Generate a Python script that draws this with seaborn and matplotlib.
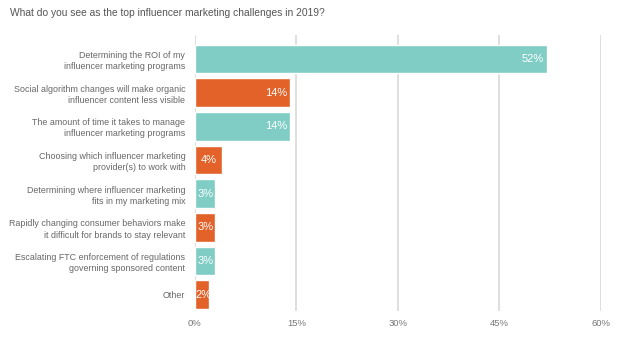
import matplotlib
matplotlib.use("Agg")
import matplotlib.pyplot as plt
import seaborn as sns

# Survey answers (top to bottom) and share of respondents in percent
challenges = [
    "Determining the ROI of my\ninfluencer marketing programs",
    "Social algorithm changes will make organic\ninfluencer content less visible",
    "The amount of time it takes to manage\ninfluencer marketing programs",
    "Choosing which influencer marketing\nprovider(s) to work with",
    "Determining where influencer marketing\nfits in my marketing mix",
    "Rapidly changing consumer behaviors make\nit difficult for brands to stay relevant",
    "Escalating FTC enforcement of regulations\ngoverning sponsored content",
    "Other",
]
shares = [52, 14, 14, 4, 3, 3, 3, 2]
value_labels = ["52%", "14%", "14%", "4%", "3%", "3%", "3%", "2%"]
x_ticks = [0, 15, 30, 45, 60]
x_tick_labels = ["0%", "15%", "30%", "45%", "60%"]

teal = "#7fcdc5"
orange = "#e2622a"
bar_colors = [teal if i % 2 == 0 else orange for i in range(len(challenges))]

sns.set_style("white")
plt.rcParams["font.family"] = ["Liberation Sans", "DejaVu Sans"]

fig = plt.figure(figsize=(6.24, 3.53), dpi=100)
ax = fig.add_axes([0.3125, 0.119, 0.6505, 0.782])

sns.barplot(x=shares, y=challenges, hue=challenges, palette=bar_colors,
            legend=False, width=0.85, saturation=1, ax=ax, zorder=3)

# value labels inside the bars (centred in the short ones)
for i, (v, lab) in enumerate(zip(shares, value_labels)):
    if v < 5:
        ax.text(max(v / 2, 1.2), i, lab, ha="center", va="center",
                color="white", fontsize=8, zorder=4)
    else:
        ax.text(v - 0.4, i, lab, ha="right", va="center", color="white",
                fontsize=8, zorder=4)

ax.set_xlim(0, 60)
ax.set_ylim(7.48, -0.71)
ax.set_xticks(x_ticks)
ax.set_xticklabels(x_tick_labels)
ax.xaxis.grid(True, color="#dcdcdc", linewidth=1.3)
ax.set_axisbelow(True)
for s in ax.spines.values():
    s.set_visible(False)
ax.tick_params(axis="x", length=0, pad=6, labelsize=6.8, labelcolor="#777777")
ax.tick_params(axis="y", length=0, pad=7, labelsize=6.4, labelcolor="#666666")
for t in ax.get_yticklabels():
    t.set_linespacing(1.3)
ax.set_xlabel("")
ax.set_ylabel("")

fig.text(0.016, 0.962, "What do you see as the top influencer marketing challenges in 2019?",
         ha="left", va="center", fontsize=7.4, color="#555555")

fig.savefig("out.png", dpi=100)
